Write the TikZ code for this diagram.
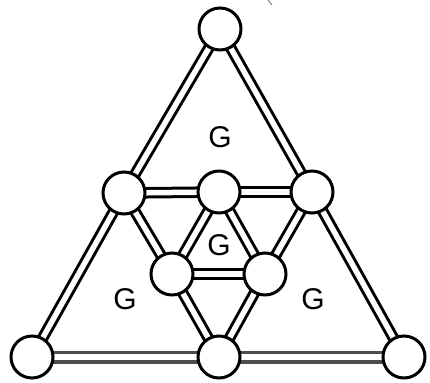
\documentclass[tikz,border=0pt]{standalone}
\usepackage{fontspec}
\setmainfont{Liberation Sans}
\begin{document}
\begin{tikzpicture}[x=1pt,y=-1pt,
  vtx/.style={circle,draw=black,fill=white,line width=3pt,minimum size=42pt,inner sep=0pt},
  bond/.style={draw=black,line width=3pt,double=white,double distance=5.5pt},
  bbond/.style={draw=black!70,line width=3.5pt,double=white,double distance=6pt},
  lbl/.style={font=\fontsize{30}{30}\selectfont}]
\useasboundingbox (0,0) rectangle (430,382);
\fill[white] (0,0) rectangle (430,382);
\coordinate (T) at (220,29);
\coordinate (L) at (124,193);
\coordinate (M) at (219,192);
\coordinate (R) at (312,192);
\coordinate (IL) at (172,274);
\coordinate (IR) at (265,274);
\coordinate (BL) at (32,357);
\coordinate (BM) at (219,357);
\coordinate (BR) at (404,357);
\draw[bond] (T) -- (L);
\draw[bond] (T) -- (R);
\draw[bond] (L) -- (M);
\draw[bond] (M) -- (R);
\draw[bond] (L) -- (BL);
\draw[bond] (R) -- (BR);
\draw[bond] (L) -- (IL);
\draw[bond] (M) -- (IL);
\draw[bond] (M) -- (IR);
\draw[bond] (R) -- (IR);
\draw[bond] (IL) -- (IR);
\draw[bond] (IL) -- (BM);
\draw[bond] (IR) -- (BM);
\draw[bbond] (BL) -- (BM);
\draw[bbond] (BM) -- (BR);
\foreach \n in {T,L,M,R,IL,IR,BL,BM,BR}
  \node[vtx] (v\n) at (\n) {};
\node[lbl] (g1) at (220,137) {G};
\node[lbl] (g2) at (219,245) {G};
\node[lbl] (g3) at (125,299) {G};
\node[lbl] (g4) at (313,299) {G};
\coordinate (m1) at (268,0);
\coordinate (m2) at (272,5);
\draw[gray,line width=1pt] (m1) -- (m2);
\end{tikzpicture}
\end{document}
